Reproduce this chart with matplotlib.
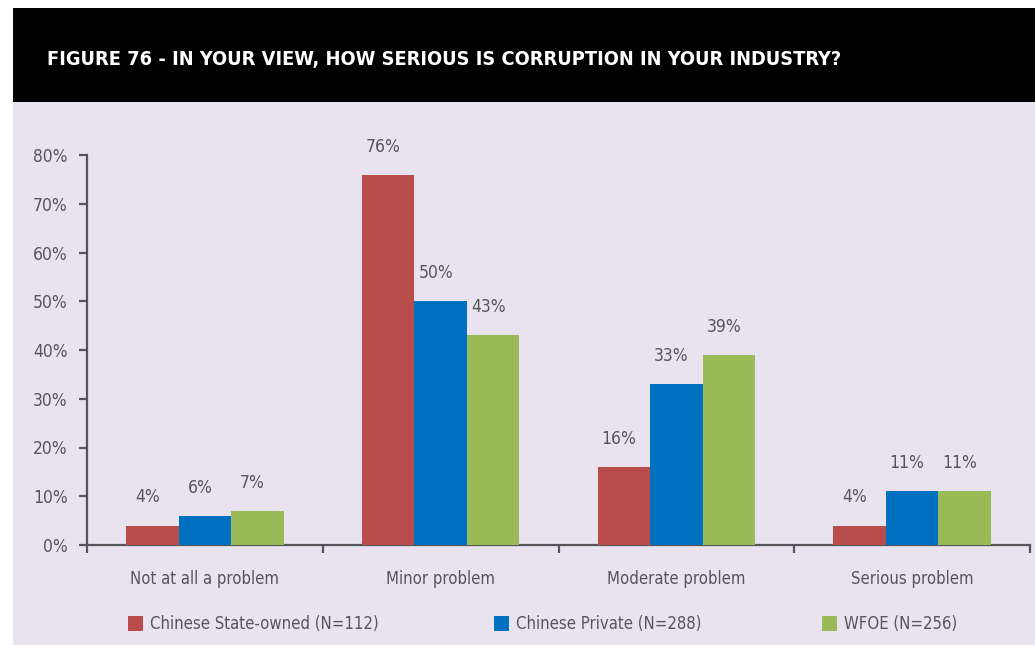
import matplotlib
matplotlib.use("Agg")
import matplotlib.pyplot as plt
import numpy as np
from matplotlib.patches import Rectangle

plt.rcParams['font.family'] = ['DejaVu Sans']
plt.rcParams['font.stretch'] = 'condensed'

categories = ["Not at all a problem", "Minor problem", "Moderate problem", "Serious problem"]
series_names = ["Chinese State-owned (N=112)", "Chinese Private (N=288)", "WFOE (N=256)"]
state_owned = [4, 76, 16, 4]
private = [6, 50, 33, 11]
wfoe = [7, 43, 39, 11]
colors = ["#B94D4B", "#0070C0", "#9BBB59"]
yticks = [0, 10, 20, 30, 40, 50, 60, 70, 80]
title = "FIGURE 76 - IN YOUR VIEW, HOW SERIOUS IS CORRUPTION IN YOUR INDUSTRY?"

W, H = 1035, 645
txt = "#56565A"
bg = "#E8E3EE"

fig = plt.figure(figsize=(W / 100, H / 100), dpi=100)
fig.patch.set_facecolor("white")
# panel background and black header
fig.patches.append(Rectangle((13 / W, 0), 1 - 13 / W, (H - 102) / H, transform=fig.transFigure,
                             facecolor=bg, edgecolor="none", zorder=-2))
fig.patches.append(Rectangle((13 / W, (H - 102) / H), 1 - 13 / W, 94 / H, transform=fig.transFigure,
                             facecolor="black", edgecolor="none", zorder=-1))
fig.text(47 / W, 1 - 60 / H, title, color="white", fontsize=14.3, fontweight="bold",
         va="center", ha="left")

ax = fig.add_axes([87 / W, (H - 545) / H, (1030 - 87) / W, 390 / H])
ax.set_facecolor("none")
ax.set_xlim(0, 4)
ax.set_ylim(0, 80)

x = np.arange(len(categories)) + 0.5
bw = 0.223
data = [state_owned, private, wfoe]
for i, (vals, c) in enumerate(zip(data, colors)):
    xs = x + (i - 1) * bw
    ax.bar(xs, vals, width=bw, color=c, zorder=3, label=series_names[i])
    for xx, v in zip(xs, vals):
        ax.annotate(f"{v}%", (xx, v), xytext=(-5, 28), textcoords="offset pixels",
                    ha="center", va="center", fontsize=12.5, color=txt)

for s in ["top", "right"]:
    ax.spines[s].set_visible(False)
for s in ["left", "bottom"]:
    ax.spines[s].set_color(txt)
    ax.spines[s].set_linewidth(1.6)

ax.set_yticks(yticks)
ax.set_yticklabels([f"{t}%" for t in yticks])
ax.tick_params(axis="y", length=6, width=1.6, color=txt, labelcolor=txt, labelsize=12.5, pad=8)
ax.set_xticks([0, 1, 2, 3, 4])
ax.set_xticklabels([])
ax.tick_params(axis="x", length=6, width=1.6, color=txt)
for xx, lab in zip(x, categories):
    ax.text(xx, -7, lab, ha="center", va="center", fontsize=12, color=txt)

leg_x = [128, 494, 822]
for hx, c, name in zip(leg_x, colors, series_names):
    fig.patches.append(Rectangle((hx / W, 1 - 631 / H), 15 / W, 15 / H, transform=fig.transFigure,
                                 facecolor=c, edgecolor="none"))
    fig.text((hx + 22) / W, 1 - 624 / H, name, ha="left", va="center", fontsize=12, color=txt)

fig.savefig("out.png", dpi=100)
